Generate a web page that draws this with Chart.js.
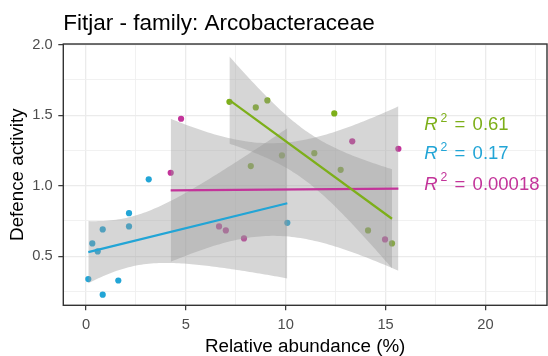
<!DOCTYPE html>
<html><head><meta charset="utf-8">
<script src="https://cdn.jsdelivr.net/npm/chart.js@4.4.1/dist/chart.umd.min.js"></script>
<style>html,body{margin:0;padding:0;background:#fff}#wrap{width:548px;height:356px;position:relative}</style>
</head><body><div id="wrap"><canvas id="c" width="548" height="356"></canvas></div>
<script>
const chartTitle = 'Fitjar - family: Arcobacteraceae';
const xAxisTitle = 'Relative abundance (%)';
const yAxisTitle = 'Defence activity';

const seriesColors = ['#7DAF19', '#22A5D6', '#C3349A'];   // green, blue, magenta

const greenX = [7.18, 8.25, 8.50, 9.08, 9.81, 11.43, 12.43, 12.75, 14.12, 15.32];
const greenY = [1.595, 1.139, 1.555, 1.605, 1.215, 1.231, 1.513, 1.113, 0.683, 0.591];
const blueX = [0.115, 0.315, 0.585, 0.836, 0.836, 1.617, 2.153, 2.153, 3.14, 10.08];
const blueY = [0.338, 0.591, 0.534, 0.690, 0.227, 0.328, 0.805, 0.711, 1.045, 0.737];
const magentaX = [4.24, 4.76, 6.66, 7.00, 7.91, 13.33, 14.97, 15.64];
const magentaY = [1.092, 1.475, 0.711, 0.683, 0.626, 1.315, 0.619, 1.262];

const r2Labels = ['0.61', '0.17', '0.00018'];
const r2LabelX = [16.93, 16.93, 16.93];
const r2LabelY = [1.440, 1.234, 1.019];

const xMajorTicks = [0, 5, 10, 15, 20];
const xMinorTicks = [2.5, 7.5, 12.5, 17.5, 22.5];
const yMajorTicks = [0.5, 1.0, 1.5, 2.0];
const yMinorTicks = [0.25, 0.75, 1.25, 1.75];
const xRange = [-1.137, 23.08];
const yRange = [0.152, 2.005];
const tCrit975 = {6: 2.4469, 8: 2.3060};

const FF = '"Liberation Sans", Arial, sans-serif';
const bandFill = 'rgba(153,153,153,0.4)';

function lmFit(xs, ys) {
  const n = xs.length;
  const mx = xs.reduce((a, b) => a + b, 0) / n;
  const my = ys.reduce((a, b) => a + b, 0) / n;
  let sxx = 0, sxy = 0;
  for (let i = 0; i < n; i++) { sxx += (xs[i] - mx) ** 2; sxy += (xs[i] - mx) * (ys[i] - my); }
  const b = sxy / sxx, a = my - b * mx;
  let rss = 0;
  for (let i = 0; i < n; i++) rss += (ys[i] - a - b * xs[i]) ** 2;
  const s = Math.sqrt(rss / (n - 2));
  const t = tCrit975[n - 2];
  const lo = Math.min(...xs), hi = Math.max(...xs);
  const line = [], upper = [], lower = [];
  const N = 80;
  for (let k = 0; k < N; k++) {
    const x = lo + (hi - lo) * k / (N - 1);
    const f = a + b * x;
    const se = s * Math.sqrt(1 / n + (x - mx) ** 2 / sxx);
    upper.push({x, y: f + t * se});
    lower.push({x, y: f - t * se});
  }
  line.push({x: lo, y: a + b * lo}, {x: hi, y: a + b * hi});
  return {line, upper, lower};
}

const groups = [[greenX, greenY], [blueX, blueY], [magentaX, magentaY]];
const datasets = [];
groups.forEach(([xs, ys], i) => {
  datasets.push({
    type: 'scatter', order: 3,
    data: xs.map((x, j) => ({x, y: ys[j]})),
    pointRadius: 3.1, pointHoverRadius: 3.1, pointBorderWidth: 0,
    pointBackgroundColor: seriesColors[i], borderColor: seriesColors[i]
  });
});
groups.forEach(([xs, ys], i) => {
  const fit = lmFit(xs, ys);
  datasets.push({
    type: 'line', order: 2, data: fit.upper, pointRadius: 0, borderWidth: 0,
    borderColor: 'rgba(0,0,0,0)', backgroundColor: bandFill, fill: '+1', tension: 0
  });
  datasets.push({
    type: 'line', order: 2, data: fit.lower, pointRadius: 0, borderWidth: 0,
    borderColor: 'rgba(0,0,0,0)', fill: false, tension: 0
  });
});
groups.forEach(([xs, ys], i) => {
  const fit = lmFit(xs, ys);
  datasets.push({
    type: 'line', order: 1, data: fit.line, pointRadius: 0, borderWidth: 2.2,
    borderColor: seriesColors[i], fill: false, tension: 0
  });
});

const overlay = {
  id: 'overlay',
  afterDatasetsDraw(chart) {
    const {ctx, chartArea: ca, scales} = chart;
    ctx.save();
    ctx.strokeStyle = '#333333';
    ctx.lineWidth = 1.4;
    ctx.strokeRect(ca.left, ca.top, ca.right - ca.left, ca.bottom - ca.top);
    // R² labels
    const fs = 18.5;
    ctx.textBaseline = 'alphabetic';
    ctx.textAlign = 'left';
    r2Labels.forEach((lab, i) => {
      let x = scales.x.getPixelForValue(r2LabelX[i]);
      const base = scales.y.getPixelForValue(r2LabelY[i]) + 6.6;
      ctx.fillStyle = seriesColors[i];
      ctx.font = `italic ${fs}px ${FF}`;
      ctx.fillText('R', x, base);
      x += ctx.measureText('R').width + 3;
      ctx.font = `${fs * 0.66}px ${FF}`;
      ctx.fillText('2', x, base - 8.3);
      x += ctx.measureText('2').width + 7.3;
      ctx.font = `${fs}px ${FF}`;
      ctx.fillText('=', x, base);
      x += ctx.measureText('=').width + 7.2;
      ctx.fillText(lab, x, base);
    });
    // title
    ctx.fillStyle = '#000000';
    ctx.font = `22.5px ${FF}`;
    ctx.fillText(chartTitle, ca.left, 29.7);
    ctx.restore();
  }
};

const isMajor = (arr, v) => arr.some(m => Math.abs(m - v) < 1e-9);

new Chart(document.getElementById('c'), {
  type: 'scatter',
  data: {datasets},
  plugins: [overlay],
  options: {
    responsive: false, animation: false,
    layout: {padding: {top: 44, right: 1, bottom: 0, left: 0}, autoPadding: false},
    plugins: {legend: {display: false}, tooltip: {enabled: false}, title: {display: false}},
    scales: {
      x: {
        type: 'linear', min: xRange[0], max: xRange[1],
        afterBuildTicks: s => { s.ticks = [...xMajorTicks, ...xMinorTicks].sort((a, b) => a - b).map(v => ({value: v})); },
        afterFit: s => { s.height = 50.7; },
        ticks: {
          autoSkip: false, maxRotation: 0, padding: 7.1, color: '#4D4D4D',
          font: {size: 14.7, family: FF, lineHeight: 1},
          callback: v => isMajor(xMajorTicks, v) ? String(v) : ''
        },
        grid: {
          color: c => isMajor(xMajorTicks, c.tick.value) ? '#EBEBEB' : '#EFEFEF',
          lineWidth: c => isMajor(xMajorTicks, c.tick.value) ? 1.3 : 0.9,
          drawTicks: true, tickLength: 5, tickWidth: 1.2,
          tickColor: c => isMajor(xMajorTicks, c.tick.value) ? '#333333' : 'rgba(0,0,0,0)'
        },
        border: {display: false},
        title: {display: true, text: xAxisTitle, color: '#000', font: {size: 18.8, family: FF, lineHeight: 1}, padding: {top: 0, bottom: 0.2}}
      },
      y: {
        type: 'linear', min: yRange[0], max: yRange[1],
        afterBuildTicks: s => { s.ticks = [...yMajorTicks, ...yMinorTicks].sort((a, b) => a - b).map(v => ({value: v})); },
        afterFit: s => { s.width = 63.3; },
        ticks: {
          autoSkip: false, padding: 5.6, color: '#4D4D4D',
          font: {size: 14.7, family: FF, lineHeight: 1},
          callback: v => isMajor(yMajorTicks, v) ? v.toFixed(1) : ''
        },
        grid: {
          color: c => isMajor(yMajorTicks, c.tick.value) ? '#EBEBEB' : '#EFEFEF',
          lineWidth: c => isMajor(yMajorTicks, c.tick.value) ? 1.3 : 0.9,
          drawTicks: true, tickLength: 5, tickWidth: 1.2,
          tickColor: c => isMajor(yMajorTicks, c.tick.value) ? '#333333' : 'rgba(0,0,0,0)'
        },
        border: {display: false},
        title: {display: true, text: yAxisTitle, color: '#000', font: {size: 18.8, family: FF, lineHeight: 1}, padding: {top: 8.6, bottom: 0}}
      }
    }
  }
});
</script></body></html>
